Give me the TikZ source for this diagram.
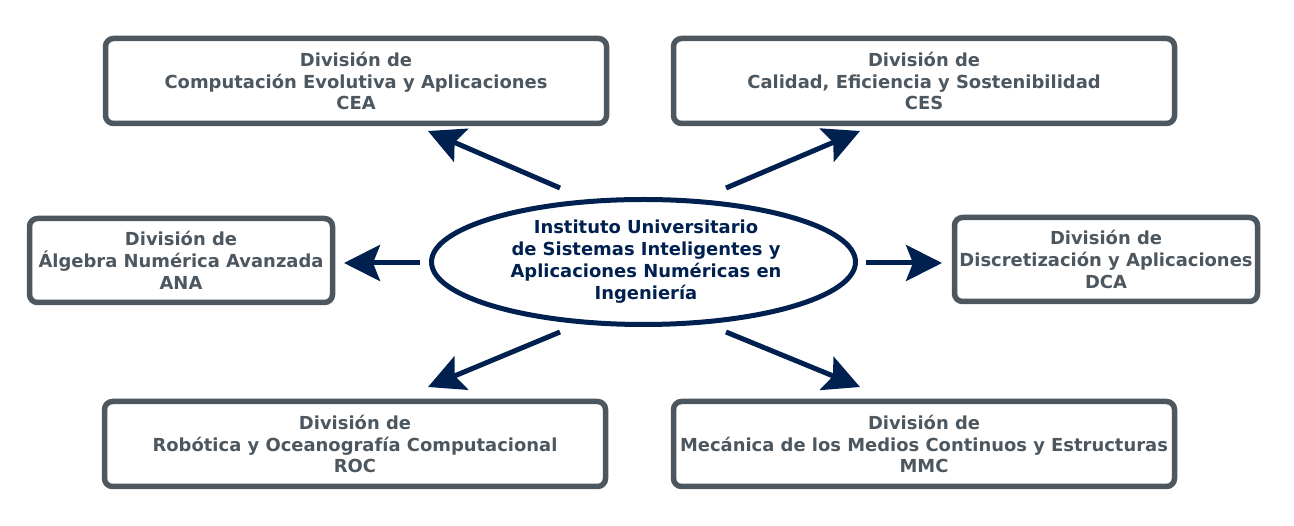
\documentclass[tikz,border=0pt]{standalone}
\usepackage{fontspec}
\setmainfont{DejaVu Sans}
\usepackage{tikz}
\usetikzlibrary{arrows.meta,shapes.geometric}
\definecolor{divgray}{HTML}{4D5760}
\definecolor{iunavy}{HTML}{002050}

\begin{document}
\begin{tikzpicture}[>={Stealth[length=36bp,width=36bp,inset=7bp]},line join=round,
  division/.style={draw=divgray,line width=5.5bp,rounded corners=8bp,fill=white,
    text=divgray,font=\fontsize{18}{22}\selectfont\bfseries,align=center,inner sep=0pt},
  divtext/.style={text=iunavy,font=\fontsize{18}{22}\selectfont\bfseries,align=center},
  link/.style={->,draw=iunavy,line width=5bp}]
\useasboundingbox (0bp,0bp) rectangle (1294bp,526bp);
%%
\node (cea) at (356bp,445bp) [division,minimum width=501bp,minimum height=85bp] {Divisi\'on de\\Computaci\'on Evolutiva y Aplicaciones\\CEA};
  \node (ces) at (924bp,445bp) [division,minimum width=501bp,minimum height=85bp] {Divisi\'on de\\Calidad, Eficiencia y Sostenibilidad\\CES};
  \node (ana) at (181bp,265.5bp) [division,minimum width=303bp,minimum height=84bp] {Divisi\'on de\\\'Algebra Num\'erica Avanzada\\ANA};
  \node (dca) at (1106bp,266.5bp) [division,minimum width=303bp,minimum height=84bp] {Divisi\'on de\\Discretizaci\'on y Aplicaciones\\DCA};
  \node (roc) at (355bp,82bp) [division,minimum width=501bp,minimum height=85bp] {Divisi\'on de\\Rob\'otica y Oceanograf\'ia Computacional\\ROC};
  \node (mmc) at (924bp,82bp) [division,minimum width=501bp,minimum height=85bp] {Divisi\'on de\\Mec\'anica de los Medios Continuos y Estructuras\\MMC};
%
\node (iusiani) at (643.5bp,264bp) [draw=iunavy,line width=5bp,ellipse,minimum width=424bp,minimum height=125bp] {};
  \node (iusianitext) at (646bp,264bp) [divtext] {Instituto Universitario\\de Sistemas Inteligentes y\\Aplicaciones Num\'ericas en\\Ingenier\'ia};
%
\coordinate (cea-a) at (560bp,338bp);  \coordinate (cea-b) at (428bp,395bp);
  \coordinate (ces-a) at (726bp,338bp);  \coordinate (ces-b) at (860bp,395bp);
  \coordinate (ana-a) at (420bp,263bp);  \coordinate (ana-b) at (344bp,263bp);
  \coordinate (dca-a) at (866bp,263bp);  \coordinate (dca-b) at (942bp,263bp);
  \coordinate (roc-a) at (560bp,194bp);  \coordinate (roc-b) at (428bp,139bp);
  \coordinate (mmc-a) at (726bp,194bp);  \coordinate (mmc-b) at (860bp,139bp);
  \draw [link] (cea-a) -- (cea-b);
  \draw [link] (ces-a) -- (ces-b);
  \draw [link] (ana-a) -- (ana-b);
  \draw [link] (dca-a) -- (dca-b);
  \draw [link] (roc-a) -- (roc-b);
  \draw [link] (mmc-a) -- (mmc-b);
%
\end{tikzpicture}
\end{document}
